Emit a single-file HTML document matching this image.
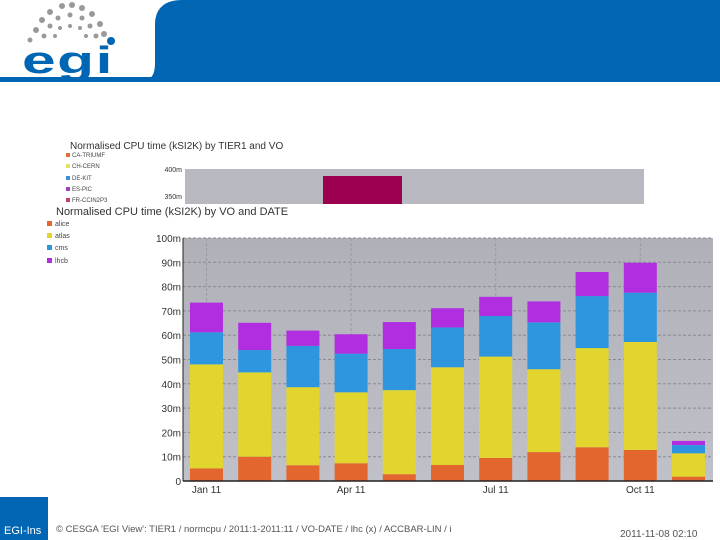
<!DOCTYPE html>
<html><head><meta charset="utf-8"><style>
body{margin:0;width:720px;height:540px;overflow:hidden;background:#fff;font-family:"Liberation Sans",sans-serif;position:relative}
</style></head><body>
<svg width="720" height="540" style="position:absolute;left:0;top:0">
  <g>
    <path d="M140,82 C152,80 155,75 155,62 L155,25 C155,8 165,0 182,0 L720,0 L720,82 Z" fill="#0066b3"/>
    <rect x="0" y="77" width="720" height="5" fill="#0066b3"/>
  </g>
  <g>
    <g fill="#999">
      <circle cx="62" cy="6" r="3"/><circle cx="72" cy="5" r="3"/><circle cx="82" cy="8" r="3"/>
      <circle cx="50" cy="12" r="3"/><circle cx="92" cy="14" r="3"/><circle cx="42" cy="20" r="3"/>
      <circle cx="100" cy="24" r="3"/><circle cx="36" cy="30" r="3"/><circle cx="104" cy="34" r="3"/>
      <circle cx="58" cy="18" r="2.5"/><circle cx="70" cy="15" r="2.5"/><circle cx="82" cy="18" r="2.5"/>
      <circle cx="50" cy="26" r="2.5"/><circle cx="90" cy="26" r="2.5"/><circle cx="44" cy="36" r="2.5"/>
      <circle cx="96" cy="36" r="2.5"/><circle cx="30" cy="40" r="2.5"/><circle cx="60" cy="28" r="2"/>
      <circle cx="70" cy="26" r="2"/><circle cx="80" cy="28" r="2"/><circle cx="55" cy="36" r="2"/><circle cx="86" cy="36" r="2"/>
    </g>
    <circle cx="111" cy="41" r="4" fill="#0066b3"/>
    <text x="22" y="73" font-size="38" font-weight="bold" fill="#0066b3" letter-spacing="1" textLength="92" lengthAdjust="spacingAndGlyphs">egi</text>
  </g>
  <g>
    <text x="70" y="149" font-size="10" fill="#333">Normalised CPU time (kSI2K) by TIER1 and VO</text>
    <g font-size="6" fill="#444">
      <rect x="66" y="153" width="4" height="4" fill="#e0703a"/><text x="72" y="157">CA-TRIUMF</text>
      <rect x="66" y="164" width="4" height="4" fill="#e8e060"/><text x="72" y="168">CH-CERN</text>
      <rect x="66" y="176" width="4" height="4" fill="#3a8fd8"/><text x="72" y="180">DE-KIT</text>
      <rect x="66" y="187" width="4" height="4" fill="#a040c0"/><text x="72" y="191">ES-PIC</text>
      <rect x="66" y="198" width="4" height="4" fill="#c04070"/><text x="72" y="202">FR-CCIN2P3</text>
    </g>
    <rect x="185" y="169" width="459" height="35" fill="#b8b8c0"/>
    <rect x="323" y="176" width="79" height="28" fill="#9c0050"/>
    <text x="182" y="172" font-size="7" fill="#333" text-anchor="end">400m</text>
    <text x="182" y="199" font-size="7" fill="#333" text-anchor="end">350m</text>
    <rect x="0" y="204" width="720" height="30" fill="#fff"/>
  </g>
  <text x="56" y="215" font-size="11" fill="#333">Normalised CPU time (kSI2K) by VO and DATE</text>
  <g font-size="7" fill="#444">
    <g><rect x="47" y="221" width="5" height="5" fill="#e2662e"/><text x="55" y="226">alice</text></g>
    <g><rect x="47" y="233" width="5" height="5" fill="#e2d62e"/><text x="55" y="238">atlas</text></g>
    <g><rect x="47" y="245" width="5" height="5" fill="#2e96de"/><text x="55" y="250">cms</text></g>
    <g><rect x="47" y="258" width="5" height="5" fill="#b02ee0"/><text x="55" y="263">lhcb</text></g>
  </g>
  <defs><linearGradient id="bg" x1="0" y1="0" x2="0" y2="1"><stop offset="0" stop-color="#b0b0b8"/><stop offset="1" stop-color="#c0c0c8"/></linearGradient></defs>
  <g id="chart"></g>
  <g>
    <rect x="0" y="497" width="48" height="43" fill="#0066b3"/>
    <text x="4" y="534" font-size="11" fill="#fff">EGI-Ins</text>
    <rect x="48" y="497" width="10" height="43" fill="#fff"/>
    <text x="56" y="532" font-size="9.5" fill="#555">© CESGA 'EGI View': TIER1 / normcpu / 2011:1-2011:11 / VO-DATE / lhc (x) / ACCBAR-LIN / i</text>
    <text x="620" y="537" font-size="10" fill="#555">2011-11-08 02:10</text>
  </g>
</svg>
<script>
const months=['Jan','Feb','Mar','Apr','May','Jun','Jul','Aug','Sep','Oct','Nov'];
const alice=[5.2,10.0,6.5,7.3,2.8,6.6,9.5,11.9,13.9,12.8,1.8];
const atlas=[42.8,34.7,32.1,29.2,34.6,40.2,41.7,34.1,40.8,44.4,9.6];
const cms=[13.2,9.2,17.0,15.9,16.9,16.4,16.7,19.3,21.4,20.3,3.4];
const lhcb=[12.2,11.2,6.3,8.0,11.1,7.9,7.9,8.6,9.9,12.3,1.7];
const yTicks=[0,10,20,30,40,50,60,70,80,90,100];
const xLabels=[[0,'Jan 11'],[3,'Apr 11'],[6,'Jul 11'],[9,'Oct 11']];
const NS='http://www.w3.org/2000/svg';
const g=document.getElementById('chart');
const X0=183,X1=713,Y0=481,Y1=238;
const y=v=>Y0-(v/100)*(Y0-Y1);
const step=48.2, bw=33;
const x=i=>206.5+i*step;
function mk(t,a){const e=document.createElementNS(NS,t);for(const k in a)e.setAttribute(k,a[k]);g.appendChild(e);return e;}
let bg=mk('rect',{x:X0,y:Y1,width:X1-X0,height:Y0-Y1,fill:'url(#bg)'});


yTicks.forEach(t=>{
  const l=mk('line',{x1:X0,x2:X1,y1:y(t),y2:y(t),stroke:'#8a8a92','stroke-dasharray':'3,2','stroke-width':1});
  
  
  const tx=mk('text',{x:X0-2,y:y(t)+4,'font-size':10,fill:'#333','text-anchor':'end'});
  tx.textContent=t===0?'0':t+'m';
  
  
});
xLabels.forEach(([i,s])=>{
  const l=mk('line',{x1:x(i),x2:x(i),y1:Y1,y2:Y0,stroke:'#9a9aa2','stroke-dasharray':'3,2'});
  
  
  const tx=mk('text',{x:x(i),y:Y0+12,'font-size':10,fill:'#333','text-anchor':'middle'});
  tx.textContent=s;
  
  
});
const series=[['alice',alice,'#e2662e'],['atlas',atlas,'#e2d62e'],['cms',cms,'#2e96de'],['lhcb',lhcb,'#b02ee0']];
months.forEach((m,i)=>{
  let cum=0;
  series.forEach(([n,arr,c])=>{
    const v=arr[i];
    const r=mk('rect',{x:x(i)-bw/2,y:y(cum+v),width:bw,height:y(cum)-y(cum+v),fill:c});
    
    
    cum+=v;
  });
});
const ax=mk('line',{x1:X0,x2:X1,y1:Y0,y2:Y0,stroke:'#222','stroke-width':1.5});


const ay=mk('line',{x1:X0,x2:X0,y1:Y1,y2:Y0,stroke:'#222'});


</script>
</body></html>
